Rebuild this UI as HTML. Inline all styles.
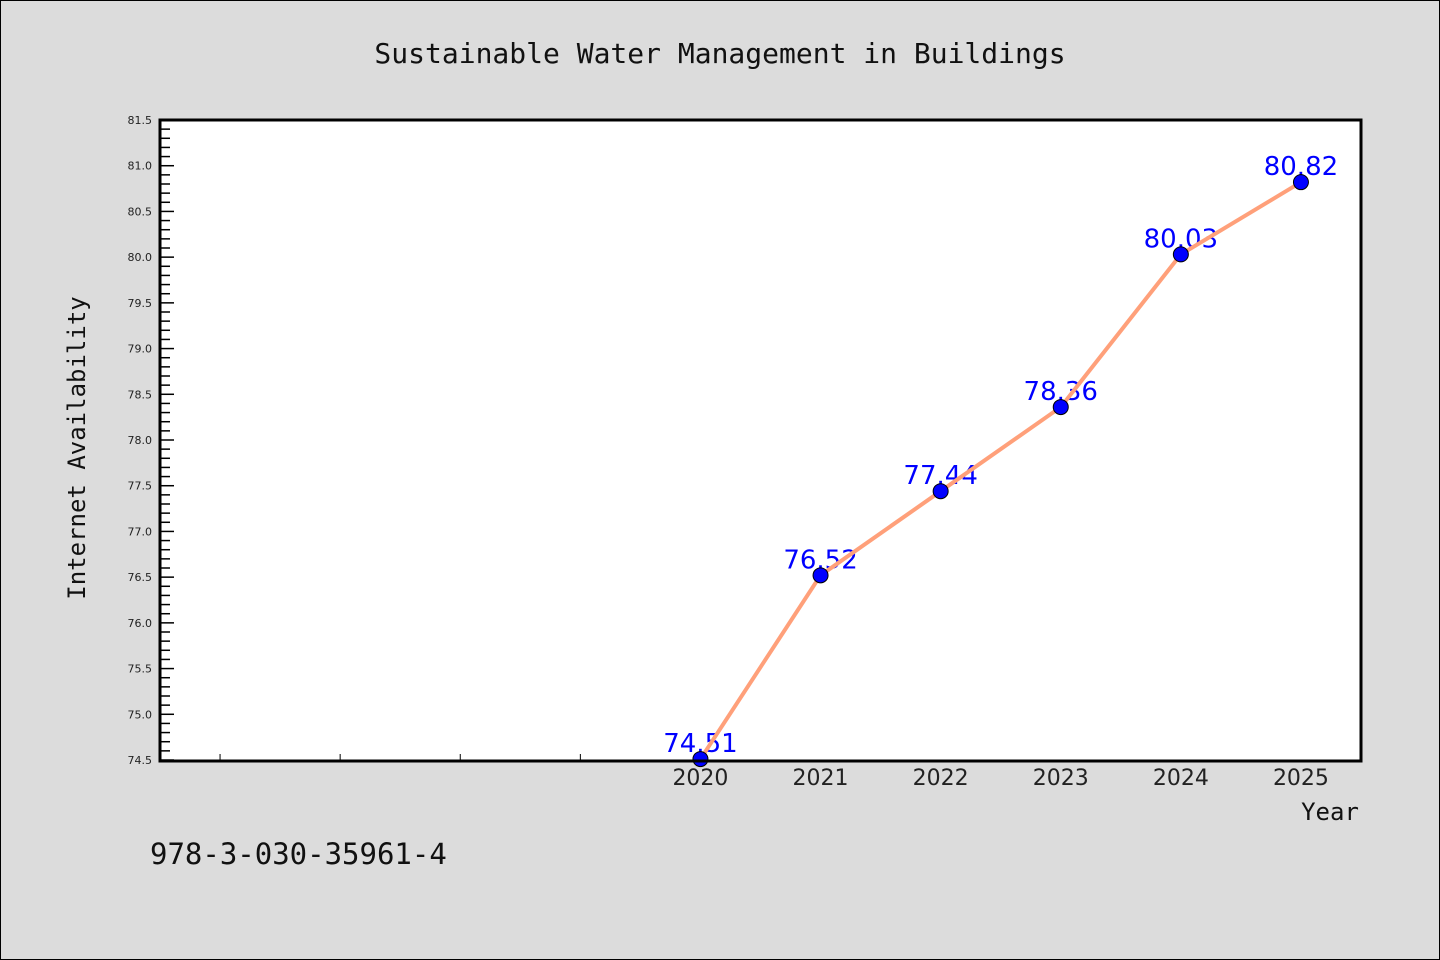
<!DOCTYPE html>
<html><head><meta charset="utf-8"><style>
html,body{margin:0;padding:0;background:#dcdcdc;}
svg{display:block;}
</style></head><body>
<svg id="c" width="1440" height="960" xmlns="http://www.w3.org/2000/svg">
<rect x="0.5" y="0.5" width="1439" height="959" fill="#dcdcdc" stroke="#000"/>
<text x="720" y="63" text-anchor="middle" font-family="DejaVu Sans Mono, Liberation Mono, monospace" font-size="28" fill="#111">Sustainable Water Management in Buildings</text>
<rect x="160" y="120" width="1201" height="641" fill="#fff"/>
<g id="axes"></g>
<g id="series"></g>
<rect x="160" y="120" width="1201" height="641" fill="none" stroke="#000" stroke-width="3"/>
<text x="1330" y="820" text-anchor="middle" font-family="DejaVu Sans Mono, Liberation Mono, monospace" font-size="24" fill="#111">Year</text>
<text transform="translate(85,448) rotate(-90)" text-anchor="middle" font-family="DejaVu Sans Mono, Liberation Mono, monospace" font-size="24" fill="#111">Internet Availability</text>
<text x="150" y="864" font-family="DejaVu Sans Mono, Liberation Mono, monospace" font-size="29" fill="#111">978-3-030-35961-4</text>
</svg>
<script>
const years = [2020, 2021, 2022, 2023, 2024, 2025];
const values = [74.51, 76.52, 77.44, 78.36, 80.03, 80.82];
const valueLabels = ["74.51", "76.52", "77.44", "78.36", "80.03", "80.82"];
const yTickLabels = ["74.5","75.0","75.5","76.0","76.5","77.0","77.5","78.0","78.5","79.0","79.5","80.0","80.5","81.0","81.5"];
const xMinorYears = [2016, 2017, 2018, 2019];

const NS = "http://www.w3.org/2000/svg";
const X0 = 160, X1 = 1361, Y0 = 760, Y1 = 120;
const xMin = 2015.5, xMax = 2025.5, yMin = 74.5, yMax = 81.5;
const xs = v => X0 + (v - xMin) / (xMax - xMin) * (X1 - X0);
const ys = v => Y0 - (v - yMin) / (yMax - yMin) * (Y0 - Y1);
function mk(tag, attrs, parent){const e=document.createElementNS(NS,tag);for(const k in attrs)e.setAttribute(k,attrs[k]);parent.appendChild(e);return e;}
const axes = document.getElementById('axes');
const ser = document.getElementById('series');

// y ticks
for (let i = 0; i <= 70; i++) {
  const v = yMin + i * 0.1;
  const major = i % 5 === 0;
  const t = mk('line', {x1: X0, x2: X0 + (major ? 14 : 10), y1: ys(v), y2: ys(v), stroke: '#000', 'stroke-width': 1.5}, axes);
  
  
}
yTickLabels.forEach(s => {
  const t = mk('text', {x: 152, y: ys(parseFloat(s)) + 4, 'text-anchor': 'end', 'font-family': 'DejaVu Sans, Liberation Sans, sans-serif', 'font-size': 11, fill: '#222'}, axes);
  t.textContent = s;
  
  
});
// x ticks
xMinorYears.forEach(y => {
  const t = mk('line', {x1: xs(y), x2: xs(y), y1: Y0, y2: Y0 - 6, stroke: '#000', 'stroke-width': 1}, axes);
  
  
});
years.forEach(y => {
  const t = mk('text', {x: xs(y), y: 785, 'text-anchor': 'middle', 'font-family': 'DejaVu Sans, Liberation Sans, sans-serif', 'font-size': 22, fill: '#222'}, axes);
  t.textContent = String(y);
  
  
});
// value labels (drawn under line)
years.forEach((y, i) => {
  const t = mk('text', {x: xs(y), y: ys(values[i]) - 7, 'text-anchor': 'middle', 'font-family': 'DejaVu Sans, Liberation Sans, sans-serif', 'font-size': 26, fill: '#0000ff'}, ser);
  t.textContent = valueLabels[i];
  
  
});
const line = mk('polyline', {points: years.map((y, i) => xs(y) + ',' + ys(values[i])).join(' '), fill: 'none', stroke: '#ffa07a', 'stroke-width': 4}, ser);


years.forEach((y, i) => {
  const c = mk('circle', {cx: xs(y), cy: ys(values[i]), r: 7.5, fill: '#0000ff', stroke: '#000', 'stroke-width': 1}, ser);
  
  
});
</script>
</body></html>
